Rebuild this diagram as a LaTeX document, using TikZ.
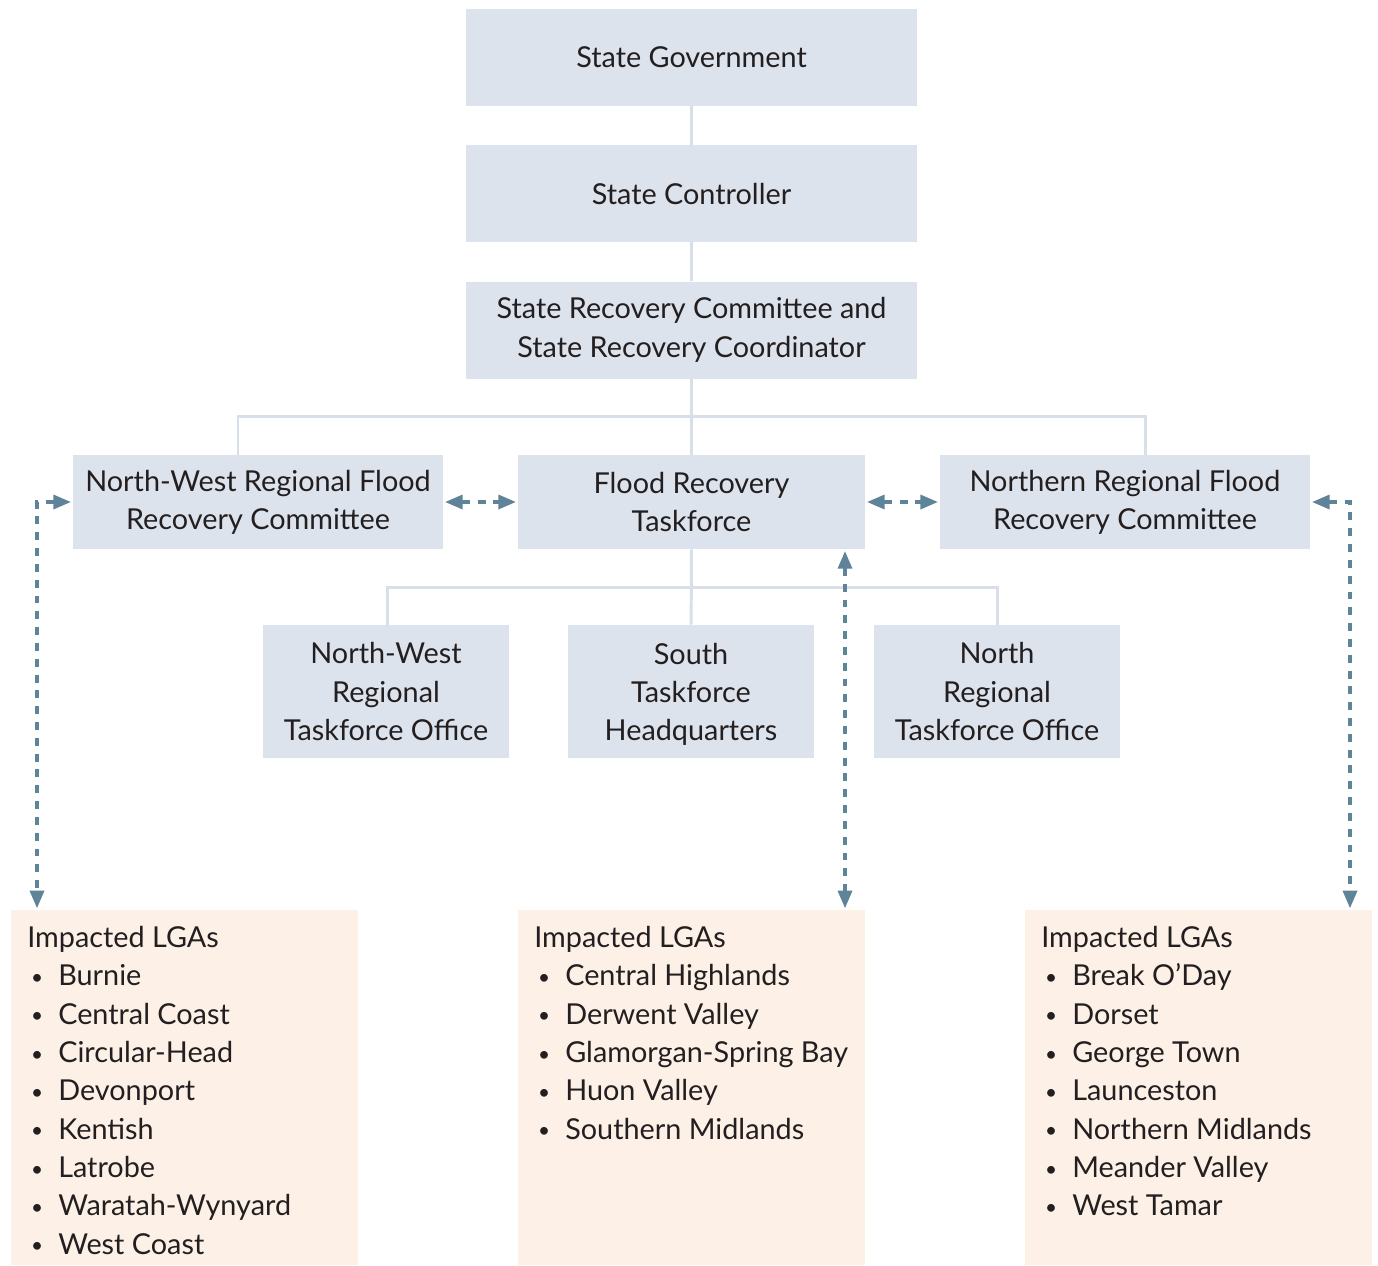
\documentclass[tikz,border=0pt]{standalone}
\usepackage{fontspec}
\setmainfont{Lato}
\usepackage{xcolor}
\usepackage{tikz}
\usetikzlibrary{arrows.meta}
\definecolor{boxfill}{HTML}{DDE3EC}
\definecolor{lgafill}{HTML}{FDF1E7}
\definecolor{linkline}{HTML}{D8DFE8}
\definecolor{dasharr}{HTML}{5F8399}
\definecolor{txtcol}{HTML}{231F20}
\tikzstyle{block} = [fill=boxfill, rectangle, minimum height=1.94cm, minimum width=9.02cm, align=center, text=txtcol, inner sep=0pt]
\tikzstyle{lgabox} = [fill=lgafill, rectangle, minimum height=7.1cm, minimum width=6.94cm, anchor=north west, inner sep=0pt]
\tikzstyle{lgatext} = [anchor=north west, align=left, text=txtcol, inner sep=0pt]
\tikzstyle{link} = [draw=linkline, line width=1.7pt]
\tikzstyle{dashlink} = [draw=dasharr, line width=1.8pt, dash pattern=on 4.5pt off 4.5pt, {Triangle[length=10pt, width=8pt]}-{Triangle[length=10pt, width=8pt]}, shorten <=1pt, shorten >=1pt]
\newcommand{\lgaitem}[1]{\makebox[17.6pt][l]{\hspace{2.2pt}\raisebox{0.8pt}{\scalebox{0.72}{\textbullet}}}#1}

\begin{document}
\begin{tikzpicture}[x=0.02cm, y=-0.02cm, font=\fontsize{16.4}{21.8}\selectfont]
        % rahmen
        \useasboundingbox (0,0) rectangle (1378,1265);

        % obere kette
        \node [block] (sg) at (691.5,57.5) {State Government};
        \node [block] (sc) at (691.5,193.5) {State Controller};
        \node [block] (src) at (691.5,330) {State Recovery Committee and\\State Recovery Coordinator};

        % mittlere ebene
        \node [block, minimum width=7.4cm, minimum height=1.88cm] (nwfrc) at (258,502) {North-West Regional Flood\\Recovery Committee};
        \node [block, minimum width=6.94cm, minimum height=1.88cm] (frt) at (691.5,502) {Flood Recovery\\Taskforce};
        \node [block, minimum width=7.4cm, minimum height=1.88cm] (nrfc) at (1125,502) {Northern Regional Flood\\Recovery Committee};

        % bueros
        \node [block, minimum width=4.92cm, minimum height=2.66cm] (nwto) at (386,691.5) {North-West\\Regional\\Taskforce Office};
        \node [block, minimum width=4.92cm, minimum height=2.66cm] (sthq) at (691,691.5) {\strut South\\Taskforce\\Headquarters};
        \node [block, minimum width=4.92cm, minimum height=2.66cm] (nrto) at (997,691.5) {North\\Regional\\Taskforce Office};

        % gemeinden
        \node [lgabox] (lgaW) at (11,910) {};
        \node [lgabox] (lgaS) at (518,910) {};
        \node [lgabox] (lgaE) at (1025,910) {};
        \node [lgatext] (lgaWtext) at (27,926) {Impacted LGAs\\\lgaitem{Burnie}\\\lgaitem{Central Coast}\\\lgaitem{Circular-Head}\\\lgaitem{Devonport}\\\lgaitem{Kentish}\\\lgaitem{Latrobe}\\\lgaitem{Waratah-Wynyard}\\\lgaitem{West Coast}};
        \node [lgatext] (lgaStext) at (534,926) {Impacted LGAs\\\lgaitem{Central Highlands}\\\lgaitem{Derwent Valley}\\\lgaitem{Glamorgan-Spring Bay}\\\lgaitem{Huon Valley}\\\lgaitem{Southern Midlands}};
        \node [lgatext] (lgaEtext) at (1041,926) {Impacted LGAs\\\lgaitem{Break O’Day}\\\lgaitem{Dorset}\\\lgaitem{George Town}\\\lgaitem{Launceston}\\\lgaitem{Northern Midlands}\\\lgaitem{Meander Valley}\\\lgaitem{West Tamar}};

        % hilfspunkte
        \coordinate (busL) at (238,416);
        \coordinate (busR) at (1145,416);
        \coordinate (subL) at (387,587);
        \coordinate (subR) at (997,587);
        \coordinate (dashL) at (37,502);
        \coordinate (dashM) at (845,0);
        \coordinate (dashR) at (1350,502);

        % linien
        \draw [link] (sg) -- (sc);
        \draw [link] (sc) -- (src);
        \draw [link] (src) -- (frt);
        \draw [link] (nwfrc.north -| busL) -- (busL) -- (busR) -- (nrfc.north -| busR);
        \draw [link] (frt) -- (sthq);
        \draw [link] (nwto.north -| subL) -- (subL) -- (subR) -- (nrto.north -| subR);

        % gestrichelte pfeile
        \draw [dashlink] (nwfrc.east) -- (frt.west |- nwfrc.east);
        \draw [dashlink] (frt.east) -- (nrfc.west |- frt.east);
        \draw [dashlink] (nwfrc.west) -- (dashL) -- (dashL |- lgaW.north);
        \draw [dashlink] (frt.south -| dashM) -- (lgaS.north -| dashM);
        \draw [dashlink] (nrfc.east) -- (dashR) -- (dashR |- lgaE.north);
    \end{tikzpicture}
\end{document}
